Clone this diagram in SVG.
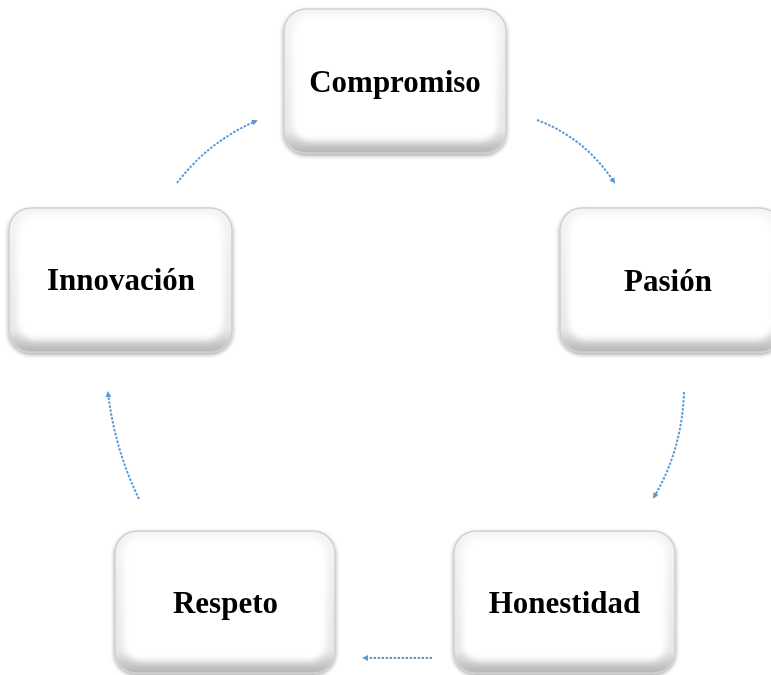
<svg xmlns="http://www.w3.org/2000/svg" width="771" height="675" viewBox="0 0 771 675">
<style>
.box{fill:url(#g);stroke:#cfcfcf;stroke-width:1.5}
.inner{fill:#ffffff}
.lbl{font-family:"Liberation Serif","Times New Roman",serif;font-weight:bold;font-size:31px;fill:#000;text-anchor:middle}
.con{fill:none;stroke:#5b9bd5;stroke-width:2;stroke-dasharray:2.5 1.5;marker-end:url(#ah)}
</style>
<defs>
<linearGradient id="g" x1="0" y1="0" x2="0" y2="1">
<stop offset="0" stop-color="#f4f4f4"/>
<stop offset="0.85" stop-color="#e6e6e6"/>
<stop offset="1" stop-color="#b5b5b5"/>
</linearGradient>
<filter id="sh" x="-10%" y="-10%" width="120%" height="130%">
<feGaussianBlur in="SourceAlpha" stdDeviation="2"/>
<feOffset dx="0" dy="2" result="b"/>
<feComponentTransfer><feFuncA type="linear" slope="0.35"/></feComponentTransfer>
<feMerge><feMergeNode/><feMergeNode in="SourceGraphic"/></feMerge>
</filter>
<filter id="bl"><feGaussianBlur stdDeviation="3"/></filter>
<marker id="ah" markerWidth="6" markerHeight="6" refX="4" refY="3" orient="auto" markerUnits="userSpaceOnUse">
<path d="M0,0 L6,3 L0,6 Z" fill="#5b9bd5"/>
</marker>
</defs>
<rect width="771" height="675" fill="#ffffff"/>
<g id="connectors">
<path class="con" d="M537,120 Q585,138 614,182"/>
<path class="con" d="M684,392 Q682,450 654,497"/>
<path class="con" d="M432,658 L364,658"/>
<path class="con" d="M139,499 Q115,450 108,393"/>
<path class="con" d="M177,183 Q208,142 256,121"/>
</g>
<g id="compromiso" filter="url(#sh)">
<rect class="box" x="284" y="9" width="222" height="144" rx="22"/>
<rect class="inner" x="292" y="15" width="206" height="126" rx="18" filter="url(#bl)"/>
<text class="lbl" x="395" y="92">Compromiso</text>
</g>
<g id="pasion" filter="url(#sh)">
<rect class="box" x="560" y="208" width="222" height="144" rx="22"/>
<rect class="inner" x="568" y="214" width="206" height="126" rx="18" filter="url(#bl)"/>
<text class="lbl" x="668" y="291">Pasión</text>
</g>
<g id="honestidad" filter="url(#sh)">
<rect class="box" x="454" y="531" width="221" height="142" rx="22"/>
<rect class="inner" x="462" y="537" width="205" height="124" rx="18" filter="url(#bl)"/>
<text class="lbl" x="564.5" y="613">Honestidad</text>
</g>
<g id="respeto" filter="url(#sh)">
<rect class="box" x="115" y="531" width="220" height="142" rx="22"/>
<rect class="inner" x="123" y="537" width="204" height="124" rx="18" filter="url(#bl)"/>
<text class="lbl" x="225.5" y="613">Respeto</text>
</g>
<g id="innovacion" filter="url(#sh)">
<rect class="box" x="9" y="208" width="223" height="144" rx="22"/>
<rect class="inner" x="17" y="214" width="207" height="126" rx="18" filter="url(#bl)"/>
<text class="lbl" x="121" y="290">Innovación</text>
</g>
</svg>
